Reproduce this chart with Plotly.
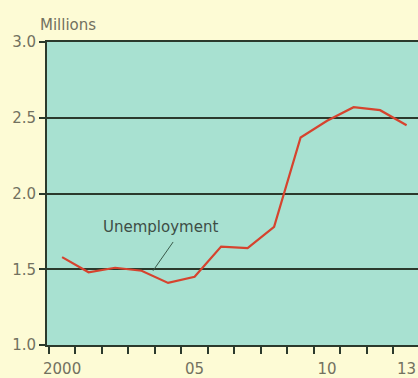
import plotly.graph_objects as go

# Annual unemployment, millions
years = list(range(2000, 2014))
unemployment = [1.58, 1.48, 1.51, 1.49, 1.41, 1.45, 1.65, 1.64, 1.78,
                2.37, 2.48, 2.57, 2.55, 2.45]

x_tick_vals = [2000, 2005, 2010, 2013]
x_tick_text = ["2000", "05", "10", "13"]
y_tick_vals = [1.0, 1.5, 2.0, 2.5, 3.0]
y_tick_text = ["1.0", "1.5", "2.0", "2.5", "3.0"]

ink = "#2b3a2c"
label_grey = "#727160"
font_family = "DejaVu Sans, Verdana, sans-serif"
fs = 15

fig = go.Figure()
fig.add_trace(go.Scatter(
    x=years, y=unemployment, mode="lines",
    line=dict(color="#d6432e", width=2.2),
    hoverinfo="skip", showlegend=False,
))

# leader line from the series label down to the curve
fig.add_shape(type="line", xref="x", yref="y",
              x0=2004.19, y0=1.68, x1=2003.43, y1=1.49,
              line=dict(color="#3a5a4a", width=1))

fig.update_layout(
    width=418, height=378,
    margin=dict(l=47, r=0, t=42, b=33),
    paper_bgcolor="#fdfbd5",
    plot_bgcolor="#a8e1d1",
    font=dict(family=font_family, size=fs, color=label_grey),
    xaxis=dict(
        range=[1999.43, 2013.43],
        tickvals=x_tick_vals, ticktext=x_tick_text,
        ticks="", showgrid=False, zeroline=False,
        showline=True, linecolor=ink, linewidth=2, mirror=True,
        ticklabelstandoff=9, automargin=False,
        tickfont=dict(size=fs, color=label_grey),
        minor=dict(
            tickvals=[y - 0.5 for y in years] + [years[-1] + 0.5],
            ticks="outside", ticklen=7, tickwidth=2, tickcolor=ink,
            showgrid=False,
        ),
    ),
    yaxis=dict(
        range=[1.0, 3.0],
        tickvals=y_tick_vals, ticktext=y_tick_text,
        ticks="outside", ticklen=6, tickwidth=1.5, tickcolor=ink,
        showgrid=True, gridcolor=ink, gridwidth=1.6,
        zeroline=False, automargin=False,
        showline=True, linecolor=ink, linewidth=2,
        tickfont=dict(size=fs, color=label_grey),
    ),
    annotations=[
        dict(text="Millions", xref="paper", yref="paper",
             x=-0.024, y=1.0, xanchor="left", yanchor="bottom", yshift=6,
             showarrow=False, font=dict(size=fs, color=label_grey)),
        dict(text="Unemployment", x=2003.7, y=1.776, xref="x", yref="y",
             xanchor="center", yanchor="middle", showarrow=False,
             font=dict(size=fs, color="#3d4d45")),
    ],
)

fig.write_html("out.html")
